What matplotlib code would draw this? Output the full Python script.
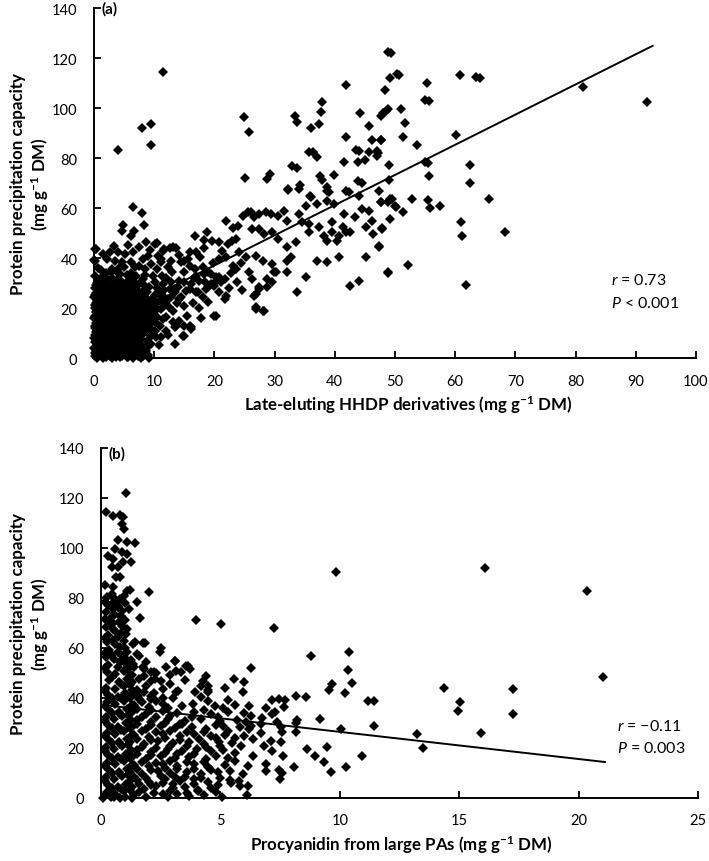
import matplotlib
matplotlib.use("Agg")
import matplotlib.pyplot as plt
import numpy as np

plt.rcParams['font.family'] = ['Lato', 'DejaVu Sans']
plt.rcParams['mathtext.fontset'] = 'custom'
plt.rcParams['mathtext.rm'] = 'Lato'
plt.rcParams['mathtext.it'] = 'Lato:italic'
plt.rcParams['mathtext.bf'] = 'Lato:bold'

# ---- panel (a): late-eluting HHDP derivatives vs protein precipitation capacity
a_upper_pts = [
    (4.0, 83.3), (8.0, 92.1), (9.4, 93.6), (9.4, 85.4), (11.4, 114.4), (24.9, 96.6), (25.7, 90.7),
    (25.1, 72.0), (28.8, 71.7), (29.3, 73.8), (32.3, 67.4), (32.9, 76.9), (33.8, 76.0), (33.4, 96.8),
    (33.8, 94.5), (36.1, 92.2), (37.4, 93.6), (37.7, 98.4), (37.9, 102.4), (35.7, 82.5), (36.4, 82.6),
    (37.0, 80.6), (34.2, 69.4), (35.8, 64.8), (37.5, 73.0), (37.8, 71.4), (38.7, 68.4), (39.0, 66.4),
    (39.8, 73.4), (41.5, 78.4), (41.8, 109.5), (41.9, 88.5), (42.3, 66.6), (44.2, 98.1), (43.6, 83.3),
    (44.1, 83.1), (43.8, 78.4), (45.0, 79.3), (45.7, 93.0), (46.1, 87.4), (45.6, 82.4), (47.0, 83.0),
    (47.0, 81.0), (47.6, 87.4), (47.6, 97.0), (48.0, 98.0), (48.5, 99.0), (48.9, 99.7), (48.4, 107.4),
    (49.2, 112.1), (48.9, 122.4), (49.3, 122.0), (49.0, 77.4), (49.0, 71.2), (43.9, 71.0), (44.5, 70.0),
    (44.0, 65.0), (50.3, 113.7), (50.6, 113.4), (55.3, 110.1), (55.0, 103.4), (55.6, 102.9),
    (60.8, 113.4), (63.5, 112.6), (64.1, 112.1), (51.0, 99.7), (51.6, 94.0), (51.4, 88.4), (53.6, 85.4),
    (47.7, 87.3), (47.2, 82.0), (55.0, 78.6), (55.4, 78.1), (55.7, 73.0), (60.1, 89.3), (62.4, 77.3),
    (62.4, 70.0), (81.2, 108.6), (91.8, 102.4), (47.6, 62.6), (48.8, 62.4), (49.5, 63.7), (50.1, 60.4),
    (51.4, 58.6), (52.8, 63.7), (55.4, 63.4), (55.8, 60.0), (57.5, 61.0), (65.6, 63.7), (49.2, 55.7),
    (47.8, 52.0), (47.3, 44.8), (60.9, 54.4), (61.2, 48.8), (68.3, 50.6), (48.9, 34.1), (52.1, 37.3),
    (61.8, 29.3),
]
a_mid_pts = [
    (32.3, 67.7), (34.0, 67.7), (38.7, 67.0), (41.8, 67.0), (47.3, 67.0), (6.4, 60.4), (7.9, 58.1),
    (4.8, 53.3), (4.7, 51.0), (6.6, 51.0), (8.3, 53.3), (6.2, 49.0), (0.2, 43.7), (0.0, 39.5),
    (8.7, 46.4), (10.4, 46.1), (11.5, 43.0), (12.6, 44.0), (13.7, 44.0), (11.2, 39.7), (12.3, 36.4),
    (16.7, 49.0), (18.7, 50.7), (18.2, 47.5), (19.6, 47.0), (20.8, 46.4), (17.0, 42.4), (17.6, 40.4),
    (15.0, 39.0), (15.9, 37.0), (22.0, 54.8), (23.1, 52.0), (24.0, 52.8), (24.7, 57.0), (25.5, 58.4),
    (26.1, 58.7), (23.6, 47.7), (23.0, 47.0), (22.2, 45.7), (20.8, 39.7), (21.9, 40.4), (24.1, 42.4),
    (25.2, 40.4), (23.6, 35.7), (21.7, 31.7), (23.1, 37.0), (20.0, 17.0), (21.7, 23.7), (26.6, 56.4),
    (27.4, 57.7), (28.5, 58.4), (29.4, 57.7), (30.5, 57.0), (31.6, 59.0), (32.1, 55.0), (26.3, 51.7),
    (27.4, 51.7), (28.3, 49.7), (29.6, 50.4), (30.5, 47.7), (32.1, 44.4), (33.5, 46.4), (26.9, 41.0),
    (28.0, 39.0), (29.6, 37.7), (25.8, 34.4), (26.3, 31.7), (27.4, 27.7), (28.8, 28.4), (29.6, 30.4),
    (26.6, 25.0), (26.9, 20.4), (28.0, 19.0), (30.2, 34.4), (32.1, 34.4), (32.1, 39.0), (32.7, 40.4),
    (33.8, 26.4), (35.2, 32.4), (34.0, 57.7), (35.2, 61.0), (36.0, 64.4), (34.6, 54.4), (35.7, 53.7),
    (37.1, 61.7), (38.7, 63.0), (39.8, 61.7), (35.7, 50.4), (37.4, 52.4), (38.2, 49.0), (38.7, 47.0),
    (39.6, 50.4), (40.7, 49.0), (37.1, 39.0), (38.7, 38.4), (40.7, 40.4), (39.6, 54.4), (41.3, 52.4),
    (41.8, 50.4), (42.6, 50.4), (40.4, 47.0), (41.5, 57.7), (42.6, 29.0), (44.0, 31.0), (43.4, 56.4),
    (44.5, 59.7), (45.6, 59.0), (46.2, 55.0), (45.1, 52.4), (46.4, 49.7), (45.1, 40.4), (47.8, 51.7),
    (47.3, 44.4), (47.6, 62.4), (49.2, 63.7), (50.0, 61.0), (48.8, 34.4),
    (0.4, 43.7), (0.2, 39.0), (2.6, 42.4), (4.0, 42.4), (5.1, 41.7), (6.5, 42.4), (10.1, 45.7),
    (11.7, 43.7), (13.1, 44.4), (2.1, 39.7), (3.5, 39.0), (4.6, 38.4), (6.2, 38.4), (8.2, 39.7),
    (9.5, 37.7), (11.2, 38.4), (12.8, 39.0), (2.9, 34.4), (4.3, 33.7), (6.8, 36.4), (8.4, 35.7),
    (0.7, 31.0), (2.4, 29.7), (4.6, 30.4), (6.2, 31.7), (8.2, 31.7), (10.1, 30.4), (11.5, 29.7),
    (12.8, 30.4), (14.2, 31.0), (15.0, 30.4), (14.5, 38.4), (15.6, 39.7), (16.7, 35.7), (18.1, 36.4),
    (18.9, 34.4), (20.3, 32.4), (16.1, 29.7), (17.5, 31.0), (17.2, 26.4), (18.9, 28.4), (20.0, 29.0),
    (21.1, 30.4), (13.1, 26.4), (12.3, 23.7), (14.5, 24.4), (15.3, 27.0), (11.2, 19.7), (12.0, 16.4),
    (13.1, 14.4), (13.4, 12.4), (15.0, 9.0), (16.1, 11.7), (13.4, 5.7), (11.2, 8.4), (9.5, 11.7),
    (10.1, 14.4), (8.7, 3.7), (7.3, 1.0), (5.7, 0.4), (4.3, 0.4), (2.6, 1.0), (1.3, 1.0), (0.2, 1.0),
    (20.2, 17.0), (26.9, 19.7), (28.3, 19.0), (26.9, 25.7), (27.4, 28.4), (28.8, 31.7), (29.9, 34.4),
    (12.6, 27.7), (13.4, 26.4), (14.2, 23.7), (12.0, 22.4), (13.1, 19.0), (14.2, 15.1), (13.7, 13.1),
    (15.0, 13.1), (15.9, 13.1), (16.1, 12.4), (14.8, 9.1), (17.0, 26.4), (18.1, 24.4), (18.6, 27.7),
    (19.4, 29.7), (20.3, 31.1), (17.0, 33.0), (18.3, 33.7), (19.4, 33.7), (20.8, 32.4),
    (10.8, 23.0), (11.8, 21.8), (12.8, 24.7), (13.8, 22.3), (14.9, 21.0), (16.5, 22.0), (17.5, 20.0),
    (19.0, 22.5), (20.8, 26.5), (22.4, 28.0), (23.8, 30.5), (24.6, 27.5), (22.8, 34.0), (24.4, 38.0),
    (19.8, 38.0), (21.2, 42.8), (18.3, 44.0), (16.0, 42.5), (14.2, 41.5), (13.0, 34.5), (11.3, 33.0),
    (10.6, 41.0), (9.3, 43.5), (7.4, 44.5), (5.6, 45.3), (3.3, 44.8), (1.5, 41.8), (9.0, 41.0),
    (11.6, 27.5), (10.4, 28.3), (12.0, 32.0), (15.0, 34.5), (16.6, 32.0), (14.0, 28.5), (16.0, 27.8),
    (18.5, 30.5), (22.0, 24.8), (15.5, 17.0), (17.8, 16.0), (11.9, 11.0), (10.8, 5.5), (12.3, 9.2),
]
a_core_pts = [
    (0.1, 2.2), (0.8, 1.6), (1.6, 2.5), (2.4, 1.9), (3.3, 2.7), (4.2, 1.5), (5.1, 2.4), (6.2, 1.8),
    (7.5, 2.9), (9.0, 1.2), (0.0, 4.3), (0.6, 3.6), (1.3, 4.8), (2.1, 4.0), (3.0, 3.5), (3.8, 4.6),
    (4.7, 3.9), (5.6, 4.4), (6.5, 3.3), (8.0, 4.9), (0.2, 6.4), (0.9, 5.8), (1.7, 6.7), (2.5, 5.6),
    (3.4, 6.2), (4.3, 6.9), (5.2, 5.7), (6.0, 6.5), (7.1, 6.0), (9.5, 5.9), (0.0, 8.3), (0.7, 7.7),
    (1.5, 8.6), (2.3, 7.9), (3.1, 8.8), (4.0, 7.6), (4.9, 8.4), (5.8, 8.0), (6.8, 8.9), (7.8, 7.8),
    (10.3, 8.5), (0.3, 10.4), (1.0, 9.8), (1.9, 10.7), (2.7, 9.6), (3.6, 10.2), (4.5, 10.9), (5.3, 9.9),
    (6.3, 10.5), (7.3, 9.7), (8.6, 10.8), (0.1, 12.2), (0.8, 11.8), (1.6, 12.6), (2.4, 12.0),
    (3.2, 11.6), (4.1, 12.5), (5.0, 11.9), (5.9, 12.8), (6.9, 12.1), (8.0, 11.7), (9.2, 12.4),
    (11.0, 12.9), (0.4, 14.3), (1.2, 13.8), (2.0, 14.6), (2.8, 14.0), (3.7, 14.8), (4.6, 13.7),
    (5.5, 14.4), (6.4, 14.9), (7.5, 14.1), (8.5, 13.9), (9.6, 14.7), (0.0, 16.2), (0.8, 16.7),
    (1.7, 15.9), (2.5, 16.5), (3.3, 15.8), (4.2, 16.6), (5.1, 16.1), (6.0, 15.7), (7.0, 16.8),
    (8.1, 16.3), (9.0, 15.9), (10.4, 16.6), (11.5, 15.6), (0.3, 18.4), (1.1, 17.8), (1.9, 18.6),
    (2.8, 18.1), (3.6, 17.7), (4.5, 18.8), (5.4, 18.2), (6.3, 17.6), (7.3, 18.5), (8.4, 18.0),
    (9.8, 18.7), (0.1, 20.3), (0.9, 19.7), (1.6, 20.6), (2.4, 20.0), (3.2, 20.8), (4.0, 19.6),
    (4.9, 20.4), (5.8, 20.9), (6.7, 19.9), (7.7, 20.5), (8.9, 20.1), (10.5, 19.8), (12.5, 20.6),
    (0.4, 22.2), (1.2, 21.7), (2.1, 22.6), (2.9, 22.0), (3.8, 21.8), (4.6, 22.7), (5.5, 22.1),
    (6.5, 21.6), (7.6, 22.5), (9.0, 22.3), (10.0, 21.9), (0.0, 24.4), (0.8, 23.8), (1.5, 24.7),
    (2.3, 24.1), (3.1, 23.7), (4.0, 24.6), (5.0, 24.0), (5.9, 23.6), (7.0, 24.5), (8.3, 24.2),
    (9.6, 23.9), (11.5, 24.8), (0.3, 26.2), (1.1, 26.7), (2.0, 25.9), (2.8, 26.5), (3.7, 25.8),
    (4.8, 26.6), (6.0, 26.1), (7.3, 25.7), (8.8, 26.4), (10.8, 26.0), (0.1, 28.3), (0.9, 27.8),
    (1.8, 28.6), (2.7, 28.0), (3.6, 27.7), (4.7, 28.5), (5.8, 28.1), (7.0, 27.6), (9.2, 28.4),
    (0.5, 30.2), (1.5, 29.8), (3.5, 30.6), (5.3, 30.0), (7.5, 29.6), (0.2, 33.1), (1.3, 32.6),
    (5.5, 33.4), (7.0, 32.8), (9.8, 33.0), (0.6, 36.2), (3.0, 35.7), (5.0, 36.5), (10.5, 35.9),
    (0.5, 0.0), (1.5, 0.2), (3.0, 0.0), (6.5, 0.1), (7.8, 0.0), (9.2, 0.3),
]
a_core_fill = [
    (0.4, 0.8), (1.2, 1.3), (2.0, 0.6), (2.9, 1.1), (3.7, 0.5), (4.6, 1.0), (5.5, 0.7), (6.8, 1.2),
    (8.2, 0.9), (0.3, 3.1), (1.0, 2.8), (1.9, 3.3), (2.7, 2.9), (3.5, 3.4), (4.4, 2.7), (5.3, 3.2),
    (6.1, 2.8), (7.1, 3.5), (8.6, 3.0), (0.5, 5.2), (1.1, 4.9), (2.0, 5.4), (2.8, 5.0), (3.6, 5.5),
    (4.5, 4.8), (5.4, 5.3), (6.3, 5.0), (7.6, 5.4), (8.8, 5.1), (0.4, 7.1), (1.2, 6.8), (2.0, 7.3),
    (2.9, 6.9), (3.8, 7.4), (4.6, 6.7), (5.5, 7.2), (6.5, 6.9), (7.4, 7.3), (8.8, 7.0), (0.2, 9.2),
    (1.0, 8.9), (1.8, 9.4), (2.6, 9.0), (3.4, 9.5), (4.3, 8.8), (5.2, 9.3), (6.0, 9.0), (7.0, 9.5),
    (8.0, 9.2), (9.4, 9.0), (0.5, 11.1), (1.3, 10.8), (2.1, 11.3), (3.0, 10.9), (3.9, 11.4),
    (4.8, 10.7), (5.6, 11.2), (6.6, 10.9), (7.6, 11.3), (10.2, 11.0), (0.2, 13.1), (1.0, 12.8),
    (1.8, 13.3), (2.6, 12.9), (3.4, 13.4), (4.3, 12.8), (5.2, 13.2), (6.1, 13.0), (7.1, 13.4),
    (8.4, 12.9), (0.5, 15.2), (1.3, 14.9), (2.2, 15.4), (3.0, 15.0), (3.9, 15.5), (4.8, 14.8),
    (5.7, 15.3), (6.7, 15.0), (7.8, 15.4), (0.2, 17.1), (1.0, 16.8), (2.1, 17.3), (3.0, 16.9),
    (3.9, 17.4), (4.8, 16.7), (5.7, 17.2), (6.6, 17.0), (7.7, 17.3), (9.4, 17.0), (0.5, 19.1),
    (1.3, 18.8), (2.2, 19.3), (3.0, 18.9), (3.8, 19.4), (4.7, 18.7), (5.6, 19.2), (6.5, 18.9),
    (7.5, 19.3), (8.6, 19.0), (0.2, 21.2), (1.0, 20.9), (1.9, 21.3), (2.7, 21.0), (3.6, 21.4),
    (4.4, 20.8), (5.2, 21.3), (6.2, 21.0), (7.2, 21.4), (8.3, 21.1), (9.5, 21.2), (0.5, 23.1),
    (1.3, 22.8), (2.2, 23.3), (3.0, 22.9), (4.3, 23.2), (5.4, 22.9), (6.4, 23.3), (7.8, 23.0),
    (8.9, 23.2), (0.2, 25.2), (1.2, 25.0), (2.4, 25.3), (3.4, 24.9), (4.4, 25.4), (5.4, 25.1),
    (6.6, 25.2), (8.0, 25.0), (10.1, 25.3), (0.6, 27.1), (1.5, 26.9), (2.4, 27.3), (3.2, 26.8),
    (4.2, 27.4), (5.3, 26.9), (6.5, 27.2), (8.1, 27.0), (0.3, 29.2), (1.1, 29.0), (2.3, 29.4),
    (3.1, 29.1), (4.2, 29.3), (6.2, 29.2), (8.3, 29.5), (1.0, 31.5), (2.2, 31.8), (3.0, 32.3),
    (4.0, 31.6), (6.5, 30.9), (2.0, 34.0), (3.8, 34.5), (6.2, 34.2), (8.5, 33.5), (1.2, 35.5),
    (4.2, 36.0), (7.5, 36.8),
]
a_fit_x = [0.0, 92.8]
a_fit_y = [13.0, 125.0]

# ---- panel (b): procyanidin from large PAs vs protein precipitation capacity
b_outlier_pts = [
    (1.04, 121.9), (0.2, 114.5), (0.5, 112.7), (0.8, 113.3), (0.93, 112.3), (0.86, 109.6),
    (0.96, 107.6), (0.72, 103.2), (1.07, 102.3), (1.42, 101.9), (0.58, 99.6), (0.86, 98.3),
    (1.07, 97.6), (0.3, 96.7), (0.5, 95.6), (0.93, 94.3), (1.24, 94.3), (0.44, 92.3), (0.72, 92.3),
    (0.63, 88.3), (0.8, 88.5), (0.17, 85.3), (0.51, 84.3), (1.07, 82.9), (1.21, 83.2), (2.01, 82.5),
    (0.51, 80.3), (0.44, 77.6), (0.72, 76.9), (1.49, 78.3), (1.18, 75.6), (0.8, 72.9), (1.65, 72.0),
    (1.0, 71.2), (0.44, 72.3), (0.4, 69.6), (0.5, 67.6), (1.07, 67.6), (3.96, 71.3), (5.03, 69.6),
    (7.25, 68.0), (9.85, 90.3), (16.07, 91.9), (20.35, 82.9), (21.04, 48.5), (14.38, 43.9),
    (15.03, 38.5), (14.96, 34.8), (17.25, 43.6), (17.25, 33.5), (13.22, 25.7), (13.5, 19.9),
    (15.93, 25.9),
    (3.64, 52.9), (3.15, 50.9), (3.36, 50.3), (4.4, 48.9), (4.26, 46.9), (5.58, 47.6), (6.0, 46.5),
    (5.93, 42.3), (9.68, 45.6), (9.54, 43.3), (10.49, 45.9), (10.21, 41.9), (3.22, 42.7), (3.92, 42.3),
    (4.47, 38.9), (4.79, 36.7), (3.85, 37.6), (5.31, 39.2), (7.18, 39.3), (7.46, 39.6), (7.71, 39.3),
    (7.67, 36.3), (8.18, 40.9), (8.57, 40.3), (6.9, 35.9), (6.74, 31.9), (7.18, 33.6), (6.69, 29.6),
    (7.39, 30.3), (8.18, 30.0), (8.15, 26.3), (9.19, 31.6), (10.03, 27.6), (11.18, 38.9), (11.42, 38.9),
    (11.42, 28.7), (10.93, 16.9), (9.47, 20.3), (8.64, 19.6), (8.96, 16.7), (9.33, 14.3), (9.65, 10.5),
    (10.26, 12.3), (8.08, 12.3), (7.46, 11.3), (7.63, 16.9), (7.18, 18.9), (7.11, 22.9), (6.83, 20.9),
    (7.53, 22.3), (7.6, 26.3), (7.53, 28.3), (6.07, 30.3), (6.21, 27.6), (6.35, 23.6), (5.86, 20.9),
    (6.35, 16.9), (6.14, 12.9), (5.93, 9.6), (5.79, 6.9), (6.14, 4.9), (5.44, 6.0), (4.06, 2.9),
    (5.07, 0.3), (2.46, 58.5), (3.08, 54.9), (2.74, 52.3), (3.57, 52.9), (3.71, 51.6), (1.76, 52.3),
    (2.11, 50.3), (2.25, 47.6), (4.19, 44.9), (1.56, 40.9), (3.15, 42.3), (4.47, 42.3), (2.1, 39.6),
]
b_column_pts = [
    (0.25, 80.5), (0.6, 79.2), (0.95, 81.0), (0.3, 77.3), (0.7, 76.4), (1.0, 78.0), (0.2, 74.5),
    (0.55, 73.6), (0.9, 74.9), (0.35, 71.2), (0.75, 70.5), (0.2, 68.4), (0.6, 67.0), (0.9, 68.9),
    (0.3, 65.2), (0.7, 64.6), (1.05, 65.8), (0.25, 62.3), (0.6, 61.5), (0.95, 62.7), (0.35, 59.4),
    (0.7, 58.6), (1.0, 59.9), (0.2, 56.5), (0.55, 55.8), (0.9, 56.9), (1.25, 55.3), (0.3, 53.2),
    (0.7, 52.6), (1.05, 53.8), (0.25, 50.4), (0.6, 49.7), (0.95, 50.9), (1.3, 49.2), (0.35, 47.3),
    (0.75, 46.5), (1.1, 47.8), (0.2, 44.2), (0.6, 43.6), (0.95, 44.7), (1.3, 43.1), (0.3, 41.4),
    (0.7, 40.6), (1.0, 41.9), (0.25, 38.3), (0.6, 37.5), (0.95, 38.8), (1.3, 37.2), (0.35, 35.1),
    (0.75, 34.6), (1.1, 35.6), (0.2, 32.3), (0.55, 31.6), (0.9, 32.8), (1.25, 31.2), (0.3, 29.4),
    (0.7, 28.6), (1.05, 29.9), (0.25, 26.2), (0.6, 25.5), (0.95, 26.7), (1.3, 25.1), (0.35, 23.3),
    (0.75, 22.6), (1.1, 23.8), (0.2, 20.4), (0.55, 19.6), (0.9, 20.9), (1.25, 19.2), (0.3, 17.3),
    (0.7, 16.6), (1.05, 17.8), (0.25, 14.2), (0.6, 13.5), (0.95, 14.7), (1.3, 13.1), (0.35, 11.3),
    (0.75, 10.5), (1.1, 11.8), (0.2, 8.3), (0.55, 7.6), (0.9, 8.8), (1.25, 7.2), (0.3, 5.2),
    (0.7, 4.6), (1.05, 5.7), (0.25, 2.4), (0.6, 1.7), (0.95, 2.8), (0.1, 0.0), (0.4, 0.3), (0.8, 0.1),
    (0.45, 81.8), (0.8, 79.8), (0.15, 78.6), (0.5, 75.8), (0.85, 73.0), (0.15, 71.6), (0.5, 69.9),
    (0.85, 66.2), (0.15, 64.0), (0.5, 63.3), (0.8, 60.6), (0.15, 58.0), (0.45, 57.4), (0.8, 54.6),
    (1.15, 51.6), (0.15, 51.9), (0.45, 48.5), (0.85, 45.8), (1.2, 45.4), (0.15, 42.8), (0.45, 39.9),
    (0.85, 39.9), (1.2, 40.2), (0.15, 36.7), (0.45, 33.9), (0.8, 33.8), (1.15, 33.3), (0.15, 30.8),
    (0.45, 27.9), (0.85, 27.3), (1.2, 28.0), (0.15, 24.8), (0.45, 21.9), (0.8, 21.6), (1.15, 21.4),
    (0.15, 18.8), (0.45, 16.0), (0.85, 15.6), (1.2, 15.9), (0.15, 12.8), (0.45, 9.9), (0.8, 9.6),
    (1.15, 9.4), (0.15, 6.8), (0.45, 4.0), (0.85, 3.6), (1.2, 3.4), (0.15, 1.1), (0.55, 0.6), (1.0, 0.4),
]
b_spread_pts = [
    (1.4, 1.2), (1.9, 0.6), (2.6, 1.5), (2.8, 0.3), (3.7, 0.8), (6.1, 1.4), (1.3, 0.2),
    (1.3, 4.4), (1.8, 3.7), (2.3, 4.8), (3.0, 3.9), (3.5, 4.6), (4.05, 3.2), (4.6, 4.1), (5.8, 4.9),
    (1.5, 7.3), (2.0, 6.6), (2.7, 7.8), (3.3, 6.9), (3.9, 7.5), (4.5, 6.3), (5.4, 7.1), (7.5, 7.7),
    (1.2, 10.4), (1.7, 9.7), (2.4, 10.8), (2.9, 9.9), (3.6, 10.6), (4.2, 9.6), (4.9, 10.3),
    (6.9, 10.9), (7.6, 10.2), (1.4, 13.3), (2.0, 12.7), (2.6, 13.6), (3.2, 12.9), (3.9, 13.8),
    (4.5, 12.6), (5.2, 13.4), (6.9, 13.5), (1.3, 16.4), (1.9, 15.7), (2.5, 16.8), (3.1, 15.9),
    (3.7, 16.6), (4.4, 15.6), (4.8, 16.9), (5.3, 16.2), (1.5, 19.3), (2.1, 18.6), (2.8, 19.7),
    (3.4, 18.9), (4.0, 19.6), (4.6, 18.7), (5.1, 19.4), (1.2, 22.4), (1.8, 21.7), (2.4, 22.8),
    (3.0, 21.9), (3.7, 22.6), (4.3, 21.6), (4.95, 22.3), (5.5, 21.9), (1.4, 25.3), (2.0, 24.6),
    (2.6, 25.7), (3.3, 24.9), (3.9, 25.6), (4.6, 24.7), (5.2, 25.4), (6.0, 24.8), (6.7, 25.9),
    (1.3, 28.4), (1.9, 27.7), (2.5, 28.8), (3.1, 27.9), (3.8, 28.6), (4.4, 27.6), (5.1, 28.9),
    (5.8, 28.3), (1.5, 31.3), (2.1, 30.6), (2.8, 31.7), (3.5, 30.9), (4.2, 31.6), (5.0, 30.7),
    (5.7, 31.4), (1.3, 34.4), (1.9, 33.7), (2.6, 34.8), (3.2, 33.9), (3.9, 34.6), (4.6, 33.6),
    (5.3, 34.3), (6.0, 34.1), (1.4, 37.3), (2.0, 36.6), (2.6, 37.6), (3.4, 36.9), (5.6, 37.1),
    (1.2, 40.4), (1.6, 39.7), (2.1, 40.8), (2.3, 38.9), (3.0, 39.9), (4.2, 40.6), (1.5, 43.3),
    (1.8, 42.6), (2.6, 43.7), (4.5, 43.1), (1.3, 46.4), (2.1, 46.9), (2.9, 45.8), (1.2, 49.4),
    (1.8, 48.7), (2.3, 50.0), (1.4, 52.3), (1.8, 51.6), (2.2, 50.3), (1.1, 55.4), (1.6, 56.9),
    (3.1, 54.7), (8.8, 56.7), (1.1, 58.3), (1.5, 57.5), (2.5, 60.0), (10.4, 58.3), (1.35, 61.6),
    (1.76, 62.0), (1.42, 62.3), (1.83, 61.9), (6.28, 51.9), (10.35, 51.3), (7.3, 34.3), (8.2, 31.1),
    (1.6, 2.6), (2.2, 2.2), (2.9, 2.8), (3.2, 1.8), (1.6, 5.8), (2.1, 5.3), (2.6, 6.0), (3.0, 5.5),
    (1.4, 8.6), (1.9, 8.2), (2.5, 8.9), (3.1, 8.4), (1.5, 11.8), (2.1, 11.4), (2.7, 12.0), (3.2, 11.5),
    (1.7, 14.6), (2.3, 14.2), (2.9, 15.0), (1.5, 17.7), (2.1, 17.3), (2.7, 17.9), (3.2, 17.6),
    (1.7, 20.6), (2.3, 20.2), (2.9, 20.8), (1.5, 23.7), (2.1, 23.3), (2.7, 23.9), (3.3, 23.4),
    (1.7, 26.7), (2.3, 26.3), (2.9, 26.8), (1.5, 29.7), (2.1, 29.4), (2.7, 30.0), (3.3, 29.5),
    (1.7, 32.6), (2.3, 32.3), (2.9, 32.9), (1.5, 35.7), (2.1, 35.3), (2.8, 36.0), (1.7, 38.6),
    (2.6, 40.0), (1.4, 41.8), (2.2, 42.0), (1.9, 45.0), (1.6, 47.6), (2.5, 47.0), (1.35, 53.8),
    (1.9, 54.5), (3.6, 2.2), (4.3, 1.2), (4.8, 2.5), (3.9, 5.8), (4.9, 5.4), (3.5, 8.6), (4.2, 8.1),
    (5.0, 8.2), (3.9, 11.7), (4.6, 11.1), (5.4, 11.0), (3.6, 14.6), (4.3, 14.3), (5.6, 14.9),
    (3.9, 17.8), (5.6, 18.0), (3.6, 20.8), (4.4, 20.3), (5.0, 21.0), (4.1, 23.6), (4.8, 23.9),
    (5.6, 24.2), (3.6, 26.6), (4.3, 26.3), (5.3, 26.9), (3.4, 29.6), (4.8, 29.3), (6.3, 29.0),
    (3.8, 32.5), (4.9, 32.6), (6.3, 32.8), (4.3, 35.3), (5.1, 35.9), (6.2, 36.9), (4.5, 45.0),
    (5.2, 44.1), (3.5, 47.4), (2.9, 49.4),
]
b_fit_x = [0.1, 21.1]
b_fit_y = [37.2, 14.4]

LABEL_SIZE = 12.2


def style_axes(ax, xmax, xstep):
    for s in ['top', 'right']:
        ax.spines[s].set_visible(False)
    for s in ['left', 'bottom']:
        ax.spines[s].set_linewidth(1.4)
    ax.set_ylim(0, 140)
    ax.set_xlim(0, xmax)
    ax.set_yticks(np.arange(0, 141, 20))
    ax.set_xticks(np.arange(0, xmax + 0.01, xstep))
    ax.tick_params(direction='in', length=5, width=1.3, labelsize=10.5)
    ax.tick_params(axis='x', pad=11)
    ax.tick_params(axis='y', pad=12)


def draw_points(ax, pts):
    arr = np.array(pts)
    ax.plot(arr[:, 0], arr[:, 1], 'D', color='black', ms=4.6, mew=0, clip_on=False)


fig = plt.figure(figsize=(7.09, 8.62), dpi=100)

ax1 = fig.add_axes([94 / 709, 1 - 359.3 / 862, 602 / 709, 350 / 862])
draw_points(ax1, a_upper_pts + a_mid_pts + a_core_pts + a_core_fill)
ax1.plot(a_fit_x, a_fit_y, color='black', lw=1.4)
style_axes(ax1, 100, 10)
ax1.set_xlabel('Late-eluting HHDP derivatives (mg g$^{\\mathbf{-1}}$ DM)', fontsize=LABEL_SIZE, fontweight='bold')
ax1.xaxis.set_label_coords(0.522, -0.1)
ax1.set_ylabel('Protein precipitation capacity\n(mg g$^{\\mathbf{-1}}$ DM)', fontsize=LABEL_SIZE, fontweight='bold')
ax1.yaxis.set_label_coords(-0.072, 0.5)
ax1.text(0.012, 1.0, '(a)', transform=ax1.transAxes, fontsize=11, fontweight='bold', va='center')
ax1.text(85.8, 31.7, '$r$ = 0.73', fontsize=11.5, va='center')
ax1.text(85.8, 22.5, '$P$ < 0.001', fontsize=11.5, va='center')

ax2 = fig.add_axes([101 / 709, 1 - 799 / 862, 597 / 709, 350 / 862])
draw_points(ax2, b_outlier_pts + b_column_pts + b_spread_pts)
ax2.plot(b_fit_x, b_fit_y, color='black', lw=1.4)
style_axes(ax2, 25, 5)
ax2.set_xlabel('Procyanidin from large PAs (mg g$^{\\mathbf{-1}}$ DM)', fontsize=LABEL_SIZE, fontweight='bold')
ax2.xaxis.set_label_coords(0.502, -0.1)
ax2.set_ylabel('Protein precipitation capacity\n(mg g$^{\\mathbf{-1}}$ DM)', fontsize=LABEL_SIZE, fontweight='bold')
ax2.yaxis.set_label_coords(-0.083, 0.5)
ax2.text(0.012, 0.985, '(b)', transform=ax2.transAxes, fontsize=11, fontweight='bold', va='center')
ax2.text(21.6, 28.9, '$r$ = \u22120.11', fontsize=11.5, va='center')
ax2.text(21.6, 20.3, '$P$ = 0.003', fontsize=11.5, va='center')

fig.savefig('out.png', dpi=100)
